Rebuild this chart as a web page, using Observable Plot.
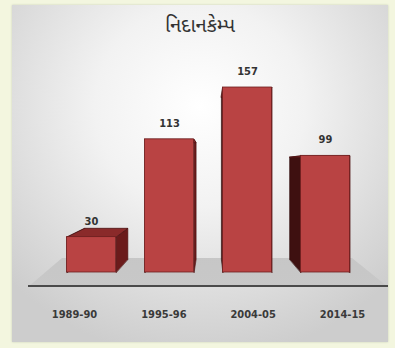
<!DOCTYPE html>
<html>
<head>
<meta charset="utf-8">
<script src="https://cdn.jsdelivr.net/npm/d3@7"></script>
<script src="https://cdn.jsdelivr.net/npm/@observablehq/plot@0.6"></script>
<style>
  html, body { margin: 0; padding: 0; background: #f3f6df; }
  #wrap { position: relative; width: 395px; height: 348px; overflow: hidden; background: #f3f6df; }
  #panel { position: absolute; left: 12px; top: 5px; width: 376px; height: 337px;
    background: radial-gradient(ellipse 70% 75% at 50% 30%, #ffffff 0%, #f2f2f2 40%, #d9d9d9 80%, #cdcdcd 100%);
    box-shadow: 0 0 2px #c8ccb8; }
  #floor { position: absolute; left: 0; top: 0; width: 395px; height: 348px;
    background: linear-gradient(to bottom, #bdbdbd 0%, #cacaca 100%);
    clip-path: polygon(62px 258px, 352px 258px, 388px 287px, 28px 287px); }
  #axisline { position: absolute; left: 28px; top: 285px; width: 360px; height: 2px; background: #4a4a4a; }
  #title { position: absolute; left: 0; width: 400px; top: 14px; text-align: center;
    font-family: "Noto Sans Gujarati", "Noto Sans", "DejaVu Sans", sans-serif; font-size: 20px; color: #333; }
  #chart { position: absolute; left: 0; top: 0; }
</style>
</head>
<body>
<div id="wrap">
  <div id="panel"></div>
  <div id="floor"></div>
  <div id="axisline"></div>
  <div id="title"></div>
  <div id="chart"></div>
</div>
<script>
const title = "નિદાનકેમ્પ";
const categories = ["1989-90", "1995-96", "2004-05", "2014-15"];
const values = [30, 113, 157, 99];

document.getElementById("title").textContent = title;

const n = categories.length;
const xScale = Plot.scale({x: {type: "linear", domain: [0, n - 1], range: [91, 325]}});
const yScale = Plot.scale({y: {type: "linear", domain: [0, d3.max(values)], range: [272, 87]}});

const halfW = 0.315;         // half bar width in band units
const vp = [210, 166];       // perspective vanishing point (pixels)
const k = 0.125;             // depth factor

const bars = categories.map((c, i) => ({i, c, v: values[i], x1: i - halfW, x2: i + halfW}));

function back(px, py) { return [px + k * (vp[0] - px), py + k * (vp[1] - py)]; }
function face(b, corners, kind) {
  const front = corners.map(([dx, dy]) => [xScale.apply(dx), yScale.apply(dy)]);
  const backs = front.map(([px, py]) => back(px, py)).reverse();
  return front.concat(backs).map(([px, py], j) => ({key: kind + b.i, kind, j, x: xScale.invert(px), y: yScale.invert(py)}));
}
const rightSides = bars.flatMap(b => face(b, [[b.x2, 0], [b.x2, b.v]], "r"));
const leftSides = bars.flatMap(b => face(b, [[b.x1, 0], [b.x1, b.v]], "l"));
const tops = bars.flatMap(b => face(b, [[b.x1, b.v], [b.x2, b.v]], "t"));

const labelSpread = 1.145;
const mid = (n - 1) / 2;
const font = "'Liberation Sans Narrow', 'DejaVu Sans Condensed', 'DejaVu Sans', sans-serif";

const plot = Plot.plot({
  width: 395,
  height: 348,
  marginLeft: 91,
  marginRight: 70,
  marginTop: 87,
  marginBottom: 76,
  x: {type: "linear", domain: [0, n - 1], range: [91, 325], axis: null},
  y: {type: "linear", domain: [0, d3.max(values)], range: [272, 87], axis: null},
  style: {background: "transparent", overflow: "visible"},
  marks: [
    Plot.line(leftSides, {x: "x", y: "y", z: "key", curve: "linear-closed", fill: "#3e1010", stroke: "#2e0a0a", strokeWidth: 0.6}),
    Plot.line(rightSides, {x: "x", y: "y", z: "key", curve: "linear-closed", fill: "#6b1b1b", stroke: "#4a1010", strokeWidth: 0.6}),
    Plot.line(tops, {x: "x", y: "y", z: "key", curve: "linear-closed", fill: "#8a2a2a", stroke: "#4a1212", strokeWidth: 0.8}),
    Plot.rect(bars, {x1: "x1", x2: "x2", y1: () => 0, y2: "v", fill: "#b94343", stroke: "#6e1f1f", strokeWidth: 0.8}),
    Plot.text(bars, {x: "i", y: "v", text: d => String(d.v), dy: -16, fontSize: 11, fontWeight: "bold",
      fill: "#333", fontFamily: font}),
    Plot.text(bars, {x: d => mid + (d.i - mid) * labelSpread, y: () => 0, text: "c", dy: 42, fontSize: 11, fontWeight: "bold",
      fill: "#3a3a3a", fontFamily: font})
  ]
});
document.getElementById("chart").appendChild(plot);
</script>
</body>
</html>
